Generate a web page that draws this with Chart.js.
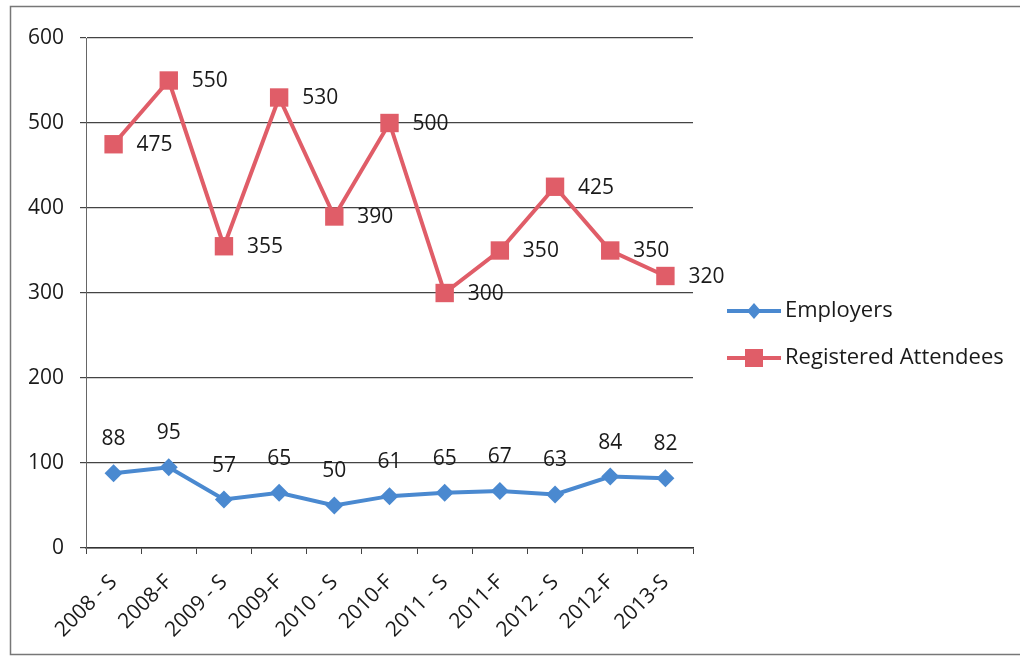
<!DOCTYPE html>
<html>
<head>
<meta charset="utf-8">
<script src="https://cdn.jsdelivr.net/npm/chart.js@4/dist/chart.umd.min.js"></script>
<style>
  html, body { margin: 0; padding: 0; background: #fff; }
  #wrap { width: 1020px; height: 659px; }
</style>
</head>
<body>
<div id="wrap"><canvas id="fairChart" width="1020" height="659"></canvas></div>
<script>
const terms = ["2008 - S", "2008-F", "2009 - S", "2009-F", "2010 - S", "2010-F",
  "2011 - S", "2011-F", "2012 - S", "2012-F", "2013-S"];
const employers = [88, 95, 57, 65, 50, 61, 65, 67, 63, 84, 82];
const attendees = [475, 550, 355, 530, 390, 500, 300, 350, 425, 350, 320];
const yTicks = [0, 100, 200, 300, 400, 500, 600];

const FONT = "'Open Sans', Lato, sans-serif";
const FONT_SIZE = 21;
const BLUE = "#4a89d0";
const RED = "#e05d68";

// value labels: employers above the point, attendees to the right
const valueLabels = {
  id: "valueLabels",
  afterDatasetsDraw(chart) {
    const c = chart.ctx;
    c.save();
    c.font = FONT_SIZE + "px " + FONT;
    c.fillStyle = "#1a1a1a";
    c.textBaseline = "middle";
    chart.data.datasets.forEach((ds, i) => {
      const meta = chart.getDatasetMeta(i);
      meta.data.forEach((pt, j) => {
        if (ds.labelPos === "above") {
          c.textAlign = "center";
          c.fillText(ds.data[j], pt.x, pt.y - 34);
        } else {
          c.textAlign = "left";
          c.fillText(ds.data[j], pt.x + 23, pt.y + 1);
        }
      });
    });
    c.restore();
  }
};

// outer frame and the vertical legend on the right
const frameAndLegend = {
  id: "frameAndLegend",
  beforeDraw(chart) {
    const c = chart.ctx;
    c.save();
    c.fillStyle = "#fff";
    c.fillRect(0, 0, chart.width, chart.height);
    c.strokeStyle = "#777";
    c.lineWidth = 1.5;
    c.strokeRect(10.5, 6.5, chart.width, 648);
    c.restore();
  },
  afterDraw(chart) {
    const c = chart.ctx;
    c.save();
    c.font = "22px " + FONT;
    c.textBaseline = "middle";
    c.textAlign = "left";
    const rows = [311, 358];
    chart.data.datasets.forEach((ds, i) => {
      const y = rows[i];
      c.strokeStyle = ds.borderColor;
      c.lineWidth = 4;
      c.beginPath();
      c.moveTo(727, y);
      c.lineTo(781, y);
      c.stroke();
      c.fillStyle = ds.backgroundColor;
      if (ds.pointStyle === "rect") {
        c.fillRect(745, y - 9, 18, 18);
      } else {
        c.beginPath();
        c.moveTo(754, y - 8);
        c.lineTo(761, y);
        c.lineTo(754, y + 8);
        c.lineTo(747, y);
        c.closePath();
        c.fill();
      }
      c.fillStyle = "#1a1a1a";
      c.fillText(ds.label, 785, y);
    });
    c.restore();
  }
};

new Chart(document.getElementById("fairChart"), {
  type: "line",
  data: {
    labels: terms,
    datasets: [
      {
        label: "Employers",
        data: employers,
        borderColor: BLUE,
        backgroundColor: BLUE,
        borderWidth: 4,
        pointStyle: "rectRot",
        pointRadius: 9,
        pointBorderWidth: 0,
        tension: 0,
        labelPos: "above"
      },
      {
        label: "Registered Attendees",
        data: attendees,
        borderColor: RED,
        backgroundColor: RED,
        borderWidth: 4,
        pointStyle: "rect",
        pointRadius: 13,
        pointBorderWidth: 0,
        tension: 0,
        labelPos: "right"
      }
    ]
  },
  options: {
    responsive: false,
    animation: false,
    events: [],
    layout: { padding: { top: 38, right: 327, left: 0, bottom: 0 } },
    plugins: {
      legend: { display: false },
      tooltip: { enabled: false }
    },
    scales: {
      x: {
        offset: true,
        afterFit(scale) {
          scale.height = 111;
        },
        grid: {
          drawOnChartArea: false,
          offset: true,
          tickLength: 6,
          color: "#444"
        },
        border: { color: "#333", width: 1.5 },
        ticks: {
          maxRotation: 45,
          minRotation: 45,
          autoSkip: false,
          color: "#1a1a1a",
          font: { family: FONT, size: FONT_SIZE },
          padding: 16
        }
      },
      y: {
        min: 0,
        max: 600,
        afterBuildTicks(scale) {
          scale.ticks = yTicks.map(v => ({ value: v }));
        },
        afterFit(scale) {
          scale.width = 86;
        },
        grid: {
          color: "#444",
          lineWidth: 1.2,
          tickLength: 6
        },
        border: { color: "#666", width: 1 },
        ticks: {
          color: "#1a1a1a",
          font: { family: FONT, size: FONT_SIZE },
          padding: 16
        }
      }
    }
  },
  plugins: [frameAndLegend, valueLabels]
});
</script>
</body>
</html>
